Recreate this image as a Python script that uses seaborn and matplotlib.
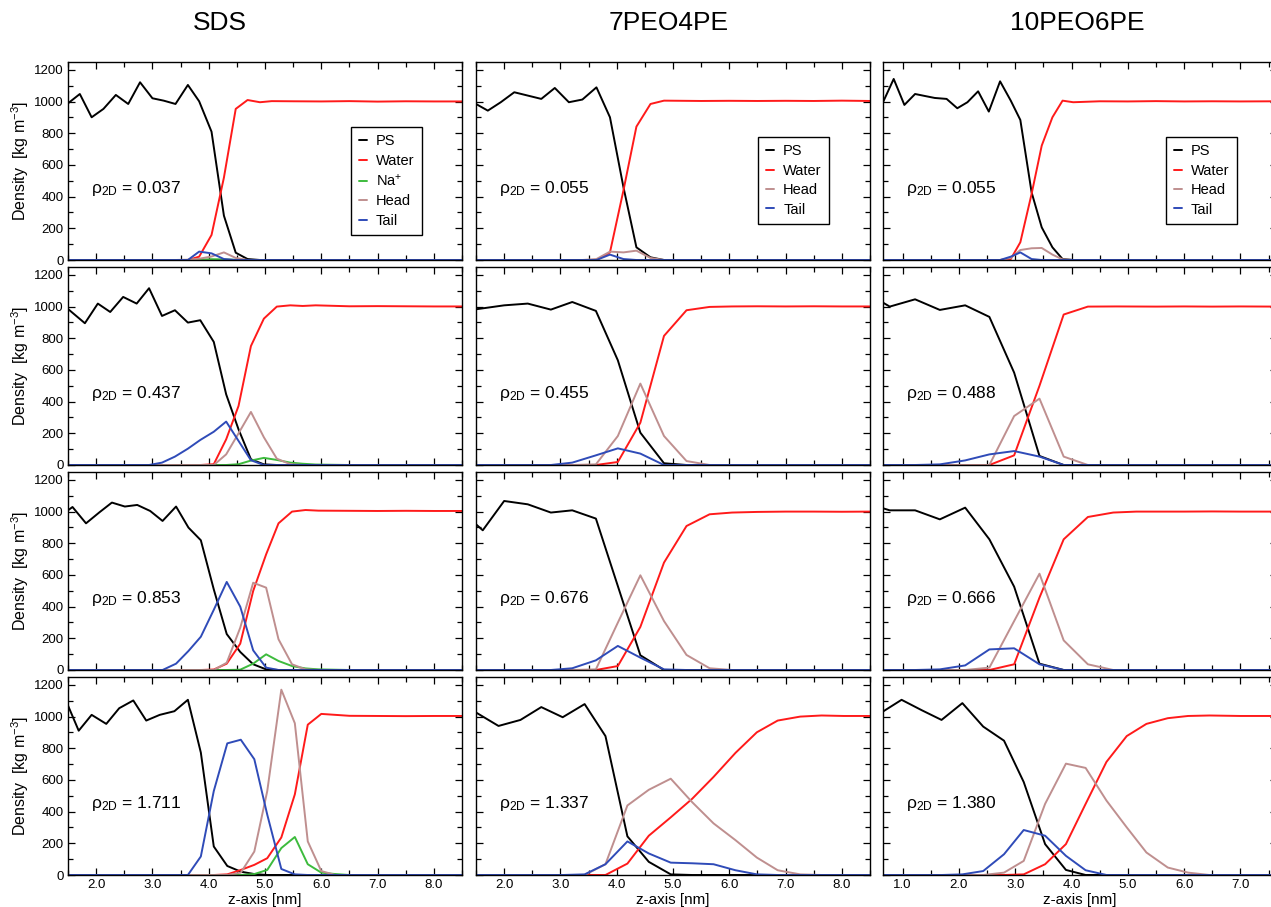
import matplotlib
matplotlib.use("Agg")
import matplotlib.pyplot as plt
from matplotlib.ticker import MultipleLocator, FormatStrFormatter
from matplotlib.lines import Line2D
import pandas as pd
import seaborn as sns

sns.set_theme(style="ticks")
plt.rcParams["font.family"] = ["Liberation Sans", "DejaVu Sans"]
plt.rcParams["mathtext.fontset"] = "custom"
plt.rcParams["mathtext.rm"] = "Liberation Sans"
plt.rcParams["mathtext.it"] = "Liberation Sans:italic"
plt.rcParams["mathtext.bf"] = "Liberation Sans:bold"
for key in ["text.color", "axes.labelcolor", "xtick.color", "ytick.color",
            "xtick.labelcolor", "ytick.labelcolor", "axes.edgecolor"]:
    plt.rcParams[key] = "black"

# ---------------------------------------------------------------- data
systems = ["SDS", "7PEO4PE", "10PEO6PE"]
components = ["PS", "Water", "Na$^{+}$", "Head", "Tail"]
comp_colors = ["#000000", "#ff1a1a", "#3dbb3d", "#bf8f8f", "#2f4bb8"]

rho_sds = ["0.037", "0.437", "0.853", "1.711"]
rho_p7 = ["0.055", "0.455", "0.676", "1.337"]
rho_p10 = ["0.055", "0.488", "0.666", "1.380"]

# SDS
z_sds_a = [1.50, 1.71, 1.92, 2.13, 2.35, 2.57, 2.78, 3.00, 3.20, 3.41, 3.63, 3.83, 4.05, 4.27, 4.48, 4.69, 4.91, 5.12, 5.50, 6.00, 6.50, 7.00, 7.50, 8.00, 8.50]
ps_sds_a = [989, 1048, 901, 954, 1042, 985, 1122, 1021, 1006, 985, 1105, 1002, 810, 280, 46, 6, 0, 0, 0, 0, 0, 0, 0, 0, 0]
water_sds_a = [0, 0, 0, 0, 0, 0, 0, 0, 0, 0, 0, 21, 158, 520, 954, 1010, 996, 1003, 1002, 1001, 1003, 1000, 1002, 1001, 1001]
na_sds_a = [0, 0, 0, 0, 0, 0, 0, 0, 0, 0, 0, 2, 5, 4, 1, 0, 0, 0, 0, 0, 0, 0, 0, 0, 0]
head_sds_a = [0, 0, 0, 0, 0, 0, 0, 0, 0, 0, 2, 8, 22, 48, 13, 0, 0, 0, 0, 0, 0, 0, 0, 0, 0]
tail_sds_a = [0, 0, 0, 0, 0, 0, 0, 0, 0, 0, 0, 53, 42, 6, 0, 0, 0, 0, 0, 0, 0, 0, 0, 0, 0]

z_sds_b = [1.50, 1.80, 2.03, 2.25, 2.48, 2.72, 2.94, 3.17, 3.40, 3.63, 3.85, 4.09, 4.31, 4.53, 4.75, 4.98, 5.21, 5.45, 5.67, 5.90, 6.50, 7.00, 7.50, 8.00, 8.50]
ps_sds_b = [985, 895, 1019, 966, 1061, 1019, 1116, 941, 977, 899, 914, 777, 446, 225, 36, 4, 0, 0, 0, 0, 0, 0, 0, 0, 0]
water_sds_b = [0, 0, 0, 0, 0, 0, 0, 0, 0, 0, 0, 5, 162, 373, 751, 924, 1000, 1008, 1004, 1008, 1002, 1003, 1002, 1001, 1001]
na_sds_b = [0, 0, 0, 0, 0, 0, 0, 0, 0, 0, 0, 0, 0, 5, 28, 45, 32, 15, 8, 3, 0, 0, 0, 0, 0]
head_sds_b = [0, 0, 0, 0, 0, 0, 0, 0, 0, 0, 0, 0, 67, 200, 335, 175, 40, 5, 0, 0, 0, 0, 0, 0, 0]
tail_sds_b = [0, 0, 0, 0, 0, 0, 0, 15, 53, 103, 158, 210, 274, 152, 30, 0, 0, 0, 0, 0, 0, 0, 0, 0, 0]

z_sds_c = [1.50, 1.58, 1.82, 2.06, 2.28, 2.51, 2.73, 2.96, 3.18, 3.42, 3.64, 3.86, 4.09, 4.32, 4.56, 4.79, 5.02, 5.24, 5.48, 5.72, 5.95, 6.50, 7.00, 7.50, 8.00, 8.50]
ps_sds_c = [1008, 1029, 926, 996, 1057, 1032, 1042, 1004, 941, 1032, 899, 819, 509, 227, 114, 36, 4, 0, 0, 0, 0, 0, 0, 0, 0, 0]
water_sds_c = [0, 0, 0, 0, 0, 0, 0, 0, 0, 0, 0, 0, 3, 40, 166, 499, 730, 926, 1000, 1010, 1006, 1005, 1004, 1005, 1004, 1004]
na_sds_c = [0, 0, 0, 0, 0, 0, 0, 0, 0, 0, 0, 0, 0, 0, 2, 40, 99, 57, 25, 10, 4, 0, 0, 0, 0, 0]
head_sds_c = [0, 0, 0, 0, 0, 0, 0, 0, 0, 0, 0, 0, 0, 46, 267, 551, 520, 194, 36, 4, 0, 0, 0, 0, 0, 0]
tail_sds_c = [0, 0, 0, 0, 0, 0, 0, 0, 0, 40, 120, 210, 380, 556, 400, 124, 15, 0, 0, 0, 0, 0, 0, 0, 0, 0]

z_sds_d = [1.50, 1.69, 1.92, 2.18, 2.41, 2.66, 2.89, 3.13, 3.39, 3.63, 3.86, 4.09, 4.33, 4.57, 4.81, 5.04, 5.29, 5.53, 5.76, 6.00, 6.25, 6.50, 7.00, 7.50, 8.00, 8.50]
ps_sds_d = [1070, 911, 1011, 954, 1053, 1102, 975, 1011, 1034, 1106, 773, 180, 57, 21, 6, 0, 0, 0, 0, 0, 0, 0, 0, 0, 0, 0]
water_sds_d = [0, 0, 0, 0, 0, 0, 0, 0, 0, 0, 0, 0, 4, 32, 64, 106, 237, 509, 949, 1017, 1011, 1005, 1004, 1003, 1004, 1004]
na_sds_d = [0, 0, 0, 0, 0, 0, 0, 0, 0, 0, 0, 0, 0, 0, 6, 32, 170, 240, 68, 15, 6, 0, 0, 0, 0, 0]
head_sds_d = [0, 0, 0, 0, 0, 0, 0, 0, 0, 0, 0, 0, 0, 15, 148, 530, 1170, 958, 212, 25, 0, 0, 0, 0, 0, 0]
tail_sds_d = [0, 0, 0, 0, 0, 0, 0, 0, 0, 0, 117, 530, 831, 854, 731, 381, 38, 4, 0, 0, 0, 0, 0, 0, 0, 0]

# 7PEO4PE
z_p7_a = [1.50, 1.71, 1.94, 2.18, 2.42, 2.66, 2.90, 3.15, 3.39, 3.64, 3.88, 4.12, 4.35, 4.60, 4.84, 5.50, 6.00, 6.50, 7.00, 7.50, 8.00, 8.50]
ps_p7_a = [985, 943, 996, 1059, 1038, 1017, 1086, 996, 1013, 1090, 901, 459, 80, 17, 0, 0, 0, 0, 0, 0, 0, 0]
water_p7_a = [0, 0, 0, 0, 0, 0, 0, 0, 0, 0, 48, 440, 842, 985, 1006, 1004, 1005, 1004, 1005, 1004, 1006, 1004]
head_p7_a = [0, 0, 0, 0, 0, 0, 0, 0, 0, 6, 53, 48, 59, 13, 0, 0, 0, 0, 0, 0, 0, 0]
tail_p7_a = [0, 0, 0, 0, 0, 0, 0, 0, 0, 0, 34, 6, 0, 0, 0, 0, 0, 0, 0, 0, 0, 0]

z_p7_b = [1.50, 2.00, 2.42, 2.83, 3.21, 3.63, 4.02, 4.42, 4.84, 5.24, 5.65, 6.05, 6.50, 7.00, 7.50, 8.00, 8.50]
ps_p7_b = [983, 1008, 1019, 981, 1029, 973, 661, 204, 11, 0, 0, 0, 0, 0, 0, 0, 0]
water_p7_b = [0, 0, 0, 0, 0, 0, 19, 267, 815, 977, 998, 1001, 1002, 1001, 1002, 1001, 1001]
head_p7_b = [0, 0, 0, 0, 0, 4, 183, 514, 183, 25, 0, 0, 0, 0, 0, 0, 0]
tail_p7_b = [0, 0, 0, 0, 15, 61, 105, 72, 0, 0, 0, 0, 0, 0, 0, 0, 0]

z_p7_c = [1.50, 1.62, 2.00, 2.42, 2.83, 3.21, 3.63, 4.02, 4.42, 4.84, 5.24, 5.65, 6.05, 6.50, 7.00, 7.50, 8.00, 8.50]
ps_p7_c = [920, 882, 1067, 1046, 994, 1008, 956, 530, 93, 0, 0, 0, 0, 0, 0, 0, 0, 0]
water_p7_c = [0, 0, 0, 0, 0, 0, 0, 25, 272, 678, 909, 983, 994, 998, 1000, 1000, 999, 1000]
head_p7_c = [0, 0, 0, 0, 0, 0, 4, 299, 598, 309, 95, 11, 0, 0, 0, 0, 0, 0]
tail_p7_c = [0, 0, 0, 0, 0, 11, 61, 152, 78, 4, 0, 0, 0, 0, 0, 0, 0, 0]

z_p7_d = [1.50, 1.90, 2.29, 2.66, 3.04, 3.43, 3.80, 4.19, 4.57, 4.96, 5.34, 5.72, 6.11, 6.49, 6.86, 7.26, 7.64, 8.03, 8.50]
ps_p7_d = [1026, 941, 979, 1060, 996, 1079, 877, 244, 83, 4, 0, 0, 0, 0, 0, 0, 0, 0, 0]
water_p7_d = [0, 0, 0, 0, 0, 0, 0, 72, 248, 364, 481, 619, 771, 901, 975, 1000, 1007, 1004, 1004]
head_p7_d = [0, 0, 0, 0, 0, 0, 68, 439, 538, 608, 460, 326, 220, 110, 30, 4, 0, 0, 0]
tail_p7_d = [0, 0, 0, 0, 0, 4, 68, 212, 136, 78, 74, 68, 30, 4, 0, 0, 0, 0, 0]

# 10PEO6PE
z_p10_a = [0.65, 0.84, 1.03, 1.22, 1.40, 1.57, 1.78, 1.97, 2.15, 2.34, 2.53, 2.73, 2.92, 3.09, 3.29, 3.47, 3.66, 3.84, 4.03, 4.50, 5.00, 5.50, 6.00, 6.50, 7.00, 7.65]
ps_p10_a = [996, 1143, 979, 1048, 1035, 1023, 1017, 958, 996, 1065, 937, 1128, 1006, 884, 427, 206, 80, 6, 0, 0, 0, 0, 0, 0, 0, 0]
water_p10_a = [0, 0, 0, 0, 0, 0, 0, 0, 0, 0, 0, 0, 6, 112, 417, 722, 901, 1006, 996, 1002, 1001, 1003, 1001, 1002, 1001, 1002]
head_p10_a = [0, 0, 0, 0, 0, 0, 0, 0, 0, 0, 0, 0, 13, 63, 74, 76, 34, 4, 0, 0, 0, 0, 0, 0, 0, 0]
tail_p10_a = [0, 0, 0, 0, 0, 0, 0, 0, 0, 0, 0, 0, 21, 48, 6, 0, 0, 0, 0, 0, 0, 0, 0, 0, 0, 0]

z_p10_b = [0.65, 0.77, 1.22, 1.66, 2.11, 2.54, 2.98, 3.43, 3.86, 4.29, 4.80, 5.50, 6.00, 6.50, 7.00, 7.65]
ps_p10_b = [1025, 1000, 1046, 979, 1008, 935, 583, 57, 0, 0, 0, 0, 0, 0, 0, 0]
water_p10_b = [0, 0, 0, 0, 0, 0, 61, 500, 950, 1000, 1001, 1000, 1001, 1000, 1001, 1000]
head_p10_b = [0, 0, 0, 0, 0, 0, 309, 419, 53, 0, 0, 0, 0, 0, 0, 0]
tail_p10_b = [0, 0, 0, 4, 29, 67, 88, 53, 0, 0, 0, 0, 0, 0, 0, 0]

z_p10_c = [0.65, 0.77, 1.22, 1.66, 2.11, 2.54, 2.98, 3.43, 3.86, 4.29, 4.74, 5.15, 5.50, 6.00, 6.50, 7.00, 7.65]
ps_p10_c = [1021, 1008, 1008, 951, 1025, 825, 526, 40, 0, 0, 0, 0, 0, 0, 0, 0, 0]
water_p10_c = [0, 0, 0, 0, 0, 0, 36, 457, 825, 966, 994, 1000, 1000, 1000, 1001, 1000, 1000]
head_p10_c = [0, 0, 0, 0, 0, 15, 309, 608, 187, 36, 0, 0, 0, 0, 0, 0, 0]
tail_p10_c = [0, 0, 0, 4, 29, 130, 137, 36, 0, 0, 0, 0, 0, 0, 0, 0, 0]

z_p10_d = [0.65, 0.98, 1.34, 1.69, 2.06, 2.43, 2.80, 3.15, 3.53, 3.90, 4.25, 4.62, 4.98, 5.33, 5.71, 6.07, 6.45, 7.00, 7.65]
ps_p10_d = [1032, 1106, 1040, 979, 1085, 937, 848, 587, 195, 32, 0, 0, 0, 0, 0, 0, 0, 0, 0]
water_p10_d = [0, 0, 0, 0, 0, 0, 0, 4, 68, 195, 449, 714, 877, 954, 990, 1004, 1007, 1004, 1004]
head_p10_d = [0, 0, 0, 0, 0, 0, 15, 89, 449, 703, 676, 470, 301, 142, 47, 15, 0, 0, 0]
tail_p10_d = [0, 0, 0, 0, 4, 25, 131, 284, 248, 121, 30, 0, 0, 0, 0, 0, 0, 0, 0]

# ---------------------------------------------------------------- panel table
sds_panels = [
    (z_sds_a, [ps_sds_a, water_sds_a, na_sds_a, head_sds_a, tail_sds_a]),
    (z_sds_b, [ps_sds_b, water_sds_b, na_sds_b, head_sds_b, tail_sds_b]),
    (z_sds_c, [ps_sds_c, water_sds_c, na_sds_c, head_sds_c, tail_sds_c]),
    (z_sds_d, [ps_sds_d, water_sds_d, na_sds_d, head_sds_d, tail_sds_d]),
]
p7_panels = [
    (z_p7_a, [ps_p7_a, water_p7_a, None, head_p7_a, tail_p7_a]),
    (z_p7_b, [ps_p7_b, water_p7_b, None, head_p7_b, tail_p7_b]),
    (z_p7_c, [ps_p7_c, water_p7_c, None, head_p7_c, tail_p7_c]),
    (z_p7_d, [ps_p7_d, water_p7_d, None, head_p7_d, tail_p7_d]),
]
p10_panels = [
    (z_p10_a, [ps_p10_a, water_p10_a, None, head_p10_a, tail_p10_a]),
    (z_p10_b, [ps_p10_b, water_p10_b, None, head_p10_b, tail_p10_b]),
    (z_p10_c, [ps_p10_c, water_p10_c, None, head_p10_c, tail_p10_c]),
    (z_p10_d, [ps_p10_d, water_p10_d, None, head_p10_d, tail_p10_d]),
]
columns = [sds_panels, p7_panels, p10_panels]
rho_labels = [rho_sds, rho_p7, rho_p10]

# ---------------------------------------------------------------- layout (pixels)
W, H = 1271, 907
fig = plt.figure(figsize=(W / 100, H / 100), dpi=100)
col_left = [68, 476, 883]
row_top = [62, 267, 472, 677]
ax_w, ax_h = 394, 198
xlims = [(1.5, 8.5), (1.5, 8.5), (0.65, 7.65)]
title_x = [220, 669, 1077]
legend_anchor = [(0.898, 0.672), (0.896, 0.621), (0.898, 0.621)]
palette = dict(zip(components, comp_colors))

for c in range(3):
    fig.text(title_x[c] / W, 1 - 23 / H, systems[c], fontsize=19,
             ha="center", va="center", color="black")
    for r in range(4):
        left, top = col_left[c], row_top[r]
        ax = fig.add_axes([left / W, 1 - (top + ax_h) / H, ax_w / W, ax_h / H])
        z, series = columns[c][r]
        present = [name for name, vals in zip(components, series) if vals is not None]
        wide = {"z": z}
        for name, vals in zip(components, series):
            if vals is not None:
                wide[name] = vals
        long = pd.DataFrame(wide).melt(id_vars="z", var_name="component",
                                       value_name="density")
        sns.lineplot(data=long, x="z", y="density", hue="component",
                     hue_order=present, palette=palette, estimator=None,
                     sort=False, legend=False, linewidth=1.4, ax=ax)

        ax.set_xlim(*xlims[c])
        ax.set_ylim(0, 1250)
        ax.xaxis.set_major_locator(MultipleLocator(1.0))
        ax.xaxis.set_minor_locator(MultipleLocator(0.5))
        ax.yaxis.set_major_locator(MultipleLocator(200))
        ax.yaxis.set_minor_locator(MultipleLocator(100))
        ax.xaxis.set_major_formatter(FormatStrFormatter("%.1f"))
        ax.tick_params(which="both", direction="in", top=True, right=True,
                       labelsize=9.5, width=0.9, color="black", labelcolor="black")
        ax.tick_params(which="major", length=5, pad=3)
        ax.tick_params(which="minor", length=3.5)
        for sp in ax.spines.values():
            sp.set_linewidth(1.0)
            sp.set_color("black")

        if c == 0:
            ax.set_ylabel("Density  [kg m$^{-3}$]", fontsize=11.5, labelpad=2,
                          color="black")
        else:
            ax.set_ylabel("")
            ax.tick_params(labelleft=False)
        if r == 3:
            ax.set_xlabel("z-axis [nm]", fontsize=11, labelpad=1, color="black")
        else:
            ax.set_xlabel("")
            ax.tick_params(labelbottom=False)

        ax.text(0.058, 0.34, "\u03c1$_{\\mathrm{2D}}$ = " + rho_labels[c][r],
                transform=ax.transAxes, fontsize=12.5, ha="left", va="baseline",
                color="black")

        if r == 0:
            handles = [Line2D([0], [0], color=palette[n], lw=1.4) for n in present]
            leg = ax.legend(handles, present, loc="upper right",
                            bbox_to_anchor=legend_anchor[c], frameon=True,
                            fancybox=False, edgecolor="black", framealpha=1,
                            fontsize=10.5, handlelength=0.6, handletextpad=0.6,
                            borderpad=0.5, labelspacing=0.37, borderaxespad=0)
            leg.get_frame().set_linewidth(1.0)
            for t in leg.get_texts():
                t.set_color("black")

fig.savefig("out.png", dpi=100)
